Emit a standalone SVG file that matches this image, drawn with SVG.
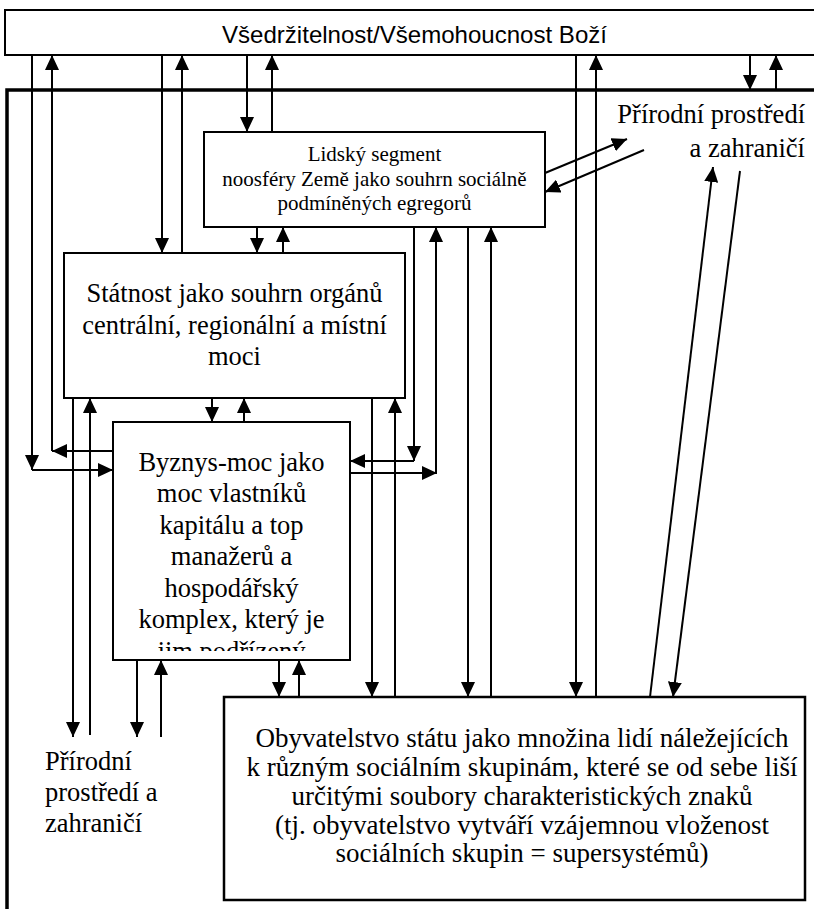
<svg xmlns="http://www.w3.org/2000/svg" width="814" height="909" viewBox="0 0 814 909">
<style>
.box{fill:#fff;stroke:#000;stroke-width:2}
.frame{fill:none;stroke:#000;stroke-width:3.5}
.c{fill:none;stroke:#000;stroke-width:2;marker-end:url(#ah)}
.t{font-family:"Liberation Serif","Times New Roman",serif;font-size:26.5px;fill:#000;text-anchor:middle}
.o{font-family:"Liberation Serif","Times New Roman",serif;font-size:27px;fill:#000;text-anchor:middle}
.s{font-family:"Liberation Serif","Times New Roman",serif;font-size:21px;fill:#000;text-anchor:middle}
.sans{font-family:"Liberation Sans",Arial,sans-serif;font-size:24px;fill:#000;text-anchor:middle}
</style>
<defs>
<marker id="ah" markerUnits="userSpaceOnUse" markerWidth="15" markerHeight="14" refX="15" refY="7" orient="auto">
<path d="M0,0 L15,7 L0,14 z" fill="#000"/>
</marker>
<clipPath id="bclip"><rect x="114" y="423" width="235" height="228"/></clipPath>
</defs>
<rect width="814" height="909" fill="#fff"/>

<g id="frame"><rect class="frame" x="7" y="90" width="820" height="830"/></g>

<g id="top">
<rect class="box" x="5" y="10" width="820" height="45"/>
<text class="sans" x="414.5" y="43" textLength="385" lengthAdjust="spacingAndGlyphs">Všedržitelnost/Všemohoucnost Boží</text>
</g>

<g id="lidsky">
<rect class="box" x="204" y="132" width="341" height="95"/>
<text class="s" x="374.5" y="161">Lidský segment</text>
<text class="s" x="374.5" y="185.5">noosféry Země jako souhrn sociálně</text>
<text class="s" x="374.5" y="210">podmíněných egregorů</text>
</g>

<g id="statnost">
<rect class="box" x="64" y="253" width="341" height="145"/>
<text class="t" x="234.5" y="302">Státnost jako souhrn orgánů</text>
<text class="t" x="234.5" y="333.5">centrální, regionální a místní</text>
<text class="t" x="234.5" y="365">moci</text>
</g>

<g id="byznys">
<rect class="box" x="113" y="422" width="237" height="238"/>
<g clip-path="url(#bclip)">
<text class="t" x="231.5" y="471">Byznys-moc jako</text>
<text class="t" x="231.5" y="502">moc vlastníků</text>
<text class="t" x="231.5" y="533.5">kapitálu a top</text>
<text class="t" x="231.5" y="565">manažerů a</text>
<text class="t" x="231.5" y="596.5">hospodářský</text>
<text class="t" x="231.5" y="628">komplex, který je</text>
<text class="t" x="231.5" y="659.5">jim podřízený</text>
</g>
</g>

<g id="obyvatelstvo">
<rect class="box" x="224" y="697" width="581" height="203" style="stroke-width:2.5"/>
<text class="o" x="522" y="747">Obyvatelstvo státu jako množina lidí náležejících</text>
<text class="o" x="522" y="776">k různým sociálním skupinám, které se od sebe liší</text>
<text class="o" x="522" y="805">určitými soubory charakteristických znaků</text>
<text class="o" x="522" y="833.5">(tj. obyvatelstvo vytváří vzájemnou vloženost</text>
<text class="o" x="522" y="862">sociálních skupin = supersystémů)</text>
</g>

<g id="prirodni-top">
<text class="t" x="805" y="123" style="text-anchor:end">Přírodní prostředí</text>
<text class="t" x="805" y="157" style="text-anchor:end">a zahraničí</text>
</g>

<g id="prirodni-bottom">
<text class="t" x="45" y="770" style="text-anchor:start">Přírodní</text>
<text class="t" x="45" y="801" style="text-anchor:start">prostředí a</text>
<text class="t" x="45" y="832" style="text-anchor:start">zahraničí</text>
</g>

<g id="connectors">
<path class="c" d="M32,55 V470"/>
<path class="c" d="M32,470 H113"/>
<path class="c" d="M113,451 H52"/>
<path class="c" d="M52,451 V55"/>
<path class="c" d="M73,398 V737"/>
<path class="c" d="M90,735 V398"/>
<path class="c" d="M137,660 V737"/>
<path class="c" d="M161,737 V660"/>
<path class="c" d="M162,55 V253"/>
<path class="c" d="M182,253 V55"/>
<path class="c" d="M212,398 V422"/>
<path class="c" d="M244,422 V398"/>
<path class="c" d="M247,55 V132"/>
<path class="c" d="M272,132 V55"/>
<path class="c" d="M257,227 V253"/>
<path class="c" d="M283,253 V227"/>
<path class="c" d="M279,660 V697"/>
<path class="c" d="M299,697 V660"/>
<path class="c" d="M372,398 V697"/>
<path class="c" d="M395,697 V398"/>
<path class="c" d="M414,227 V461"/>
<path class="c" d="M414,461 H350"/>
<path class="c" d="M350,473 H437"/>
<path class="c" d="M436,473 V227"/>
<path class="c" d="M468,227 V697"/>
<path class="c" d="M491,697 V227"/>
<path class="c" d="M576,55 V697"/>
<path class="c" d="M596,697 V55"/>
<path class="c" d="M750,55 V90"/>
<path class="c" d="M776,90 V55"/>
<path class="c" d="M545,173 L627,139"/>
<path class="c" d="M644,150 L545,192"/>
<path class="c" d="M650,697 L713,167"/>
<path class="c" d="M740,171 L673,697"/>
</g>
</svg>
